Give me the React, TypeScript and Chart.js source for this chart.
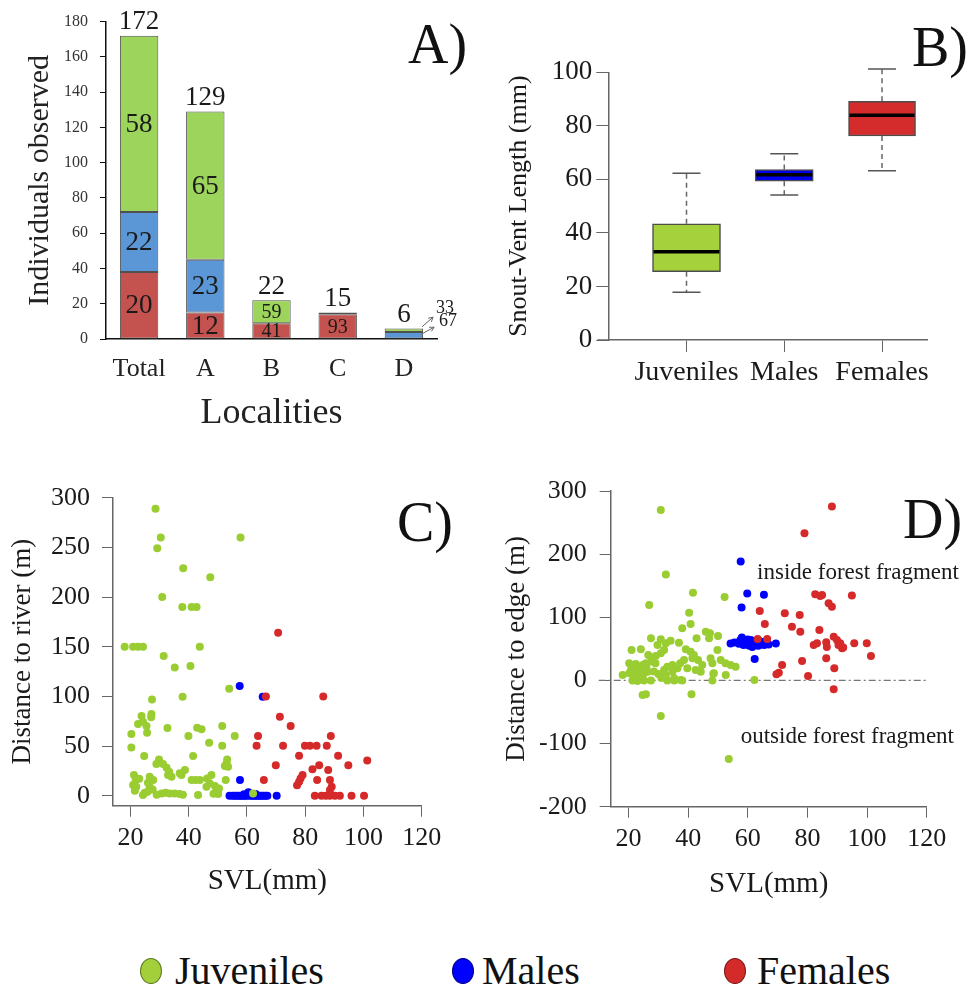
import React, { useEffect, useRef } from 'react';
import { Chart, registerables } from 'chart.js';

Chart.register(...registerables);

const FONT = "'Liberation Serif', 'Times New Roman', Times, serif";
Chart.defaults.font.family = FONT;
Chart.defaults.color = '#1a1a1a';

// ---------- Panel A: individuals observed per locality ----------
const localities = ['Total', 'A', 'B', 'C', 'D'];
const femalesCount = [38, 15, 9, 14, 0];
const malesCount = [34, 30, 0, 0, 4];
const juvenilesCount = [100, 84, 13, 1, 2];
const femalesPct = ['20', '12', '41', '93', ''];
const malesPct = ['22', '23', '', '', '67'];
const juvenilesPct = ['58', '65', '59', '', '33'];
const countTicks = [0, 20, 40, 60, 80, 100, 120, 140, 160, 180];

// ---------- Panel B: snout-vent length box plots ----------
const groups = ['Juveniles', 'Males', 'Females'];
const svlWhiskerLow = [17.8, 54.2, 63.2];
const svlQ1 = [25.5, 59.3, 76.2];
const svlMedian = [33, 61.7, 84];
const svlQ3 = [43.4, 63.7, 89.2];
const svlWhiskerHigh = [62.3, 69.6, 101.2];
const svlTicks = [0, 20, 40, 60, 80, 100];

// ---------- Panels C & D: shared x ticks ----------
const svlAxisTicks = [20, 40, 60, 80, 100, 120];

// ---------- Panel C: distance to river ----------
const riverTicks = [0, 50, 100, 150, 200, 250, 300];
const riverJuveniles = [
  [28.6, 289], [30.4, 260], [29.2, 249], [38.1, 229], [47.4, 220], [30.9, 200], [37.8, 190], [41, 190], [42.7, 190], [57.8, 260],
  [18, 150], [20.9, 150], [22.6, 150], [24.3, 150], [43.8, 150],
  [31.4, 140.7], [35.2, 129], [40.6, 130.6], [53.9, 107.8], [37.9, 99.7], [27.4, 97],
  [23.8, 80.3], [27.2, 82.3], [27.1, 79], [22.6, 72.2], [24.3, 74.5], [25.5, 70.2], [25.7, 63.4], [20.3, 62.1],
  [32.7, 68.2], [39.9, 60.1], [42.9, 68.5], [44.4, 66.9], [51.5, 70.2], [55.8, 60.1],
  [20.3, 48.7], [47, 53.4], [51.5, 50.4], [24.7, 40], [41.5, 40],
  [53.2, 36.6], [53, 32.6], [52.4, 29.9], [53.5, 29.2],
  [29.8, 36.6], [28.9, 31.9], [31.2, 31.9], [32.4, 28.2], [33.3, 24.2], [34.1, 19.1], [32.9, 20.8],
  [36.9, 22.6], [38.7, 25.9], [37.5, 20.8],
  [21.2, 20.8], [21.8, 15.8], [20.9, 10.8], [22, 9.1],
  [26.6, 19.1], [27.8, 15.8], [26.6, 9.1], [27.6, 6.4], [24.9, 3], [24.3, 0.7], [25.9, 4],
  [30.7, 2.4], [32.1, 3], [33.5, 2.4], [35.2, 2.4], [36.9, 1.7],
  [41, 15.8], [42.4, 15.8], [43.8, 15.8],
  [46.3, 17.5], [47.8, 20.8], [47.2, 12.5], [49, 9.8], [46.1, 9.1],
  [49.6, 5.7], [50.1, 1.7], [50.4, 7.4],
  [43.2, 0.7], [52.7, 15.8], [62.1, 2.4],
  [48.5, 2], [29, 1], [38, 1], [23, 17], [26, 13], [21.5, 5],
];
const riverMales = [
  [57.5, 110.5], [65.4, 99.7], [57.6, 15.8],
  [54, 0], [55, 0], [55.7, 0], [56.3, 0], [57, 0], [57.6, 0], [58.2, 0], [58.8, 0], [59.4, 0], [60, 0],
  [60.5, 3.5], [61, 0], [61.6, 0], [62.2, 0], [62.8, 0], [63.4, 0], [64, 0], [64.6, 0], [65.2, 0],
  [65.8, 0], [66.4, 0], [67, 0], [70.2, 0], [59, 1.5], [63, 1.8],
];
const riverFemales = [
  [66.5, 100], [86.2, 100], [70.7, 164], [71.3, 79.6], [75, 70.2], [63.8, 60.1], [63.3, 50.4], [72.4, 50.4],
  [79.9, 50.4], [81.6, 50.4], [83.9, 50.4], [87.4, 50.4], [88.8, 60.1], [77.9, 40.3], [91.3, 40.3],
  [69.9, 30.6], [84.8, 30.6], [94.8, 30.6], [82.5, 26.6], [101.3, 35.6], [87.9, 25.9],
  [79.1, 20.8], [78.4, 17.5], [77.9, 14.1], [77.2, 10.5], [65.8, 15.8], [84.1, 15.8], [88.5, 15.8],
  [89.1, 9.1], [88.5, 5.7], [83.3, 0], [85.6, 0], [87.1, 0], [88.5, 0], [90.2, 0], [91.9, 0], [95.9, 0], [100.2, 0],
];

// ---------- Panel D: distance to edge ----------
const edgeTicks = [-200, -100, 0, 100, 200, 300];
const edgeJuveniles = [
  [30.8, 270], [32.5, 167.7], [26.9, 119.5], [41.6, 139], [40.3, 107.3], [52.2, 132], [40.8, 89.4], [38, 82.6],
  [45.9, 77.2], [47.3, 74.6], [50, 70.4], [47, 66.7], [42.8, 66.7],
  [27.5, 66.7], [30.8, 65.1], [32.5, 58.8], [34.1, 62.9], [29.7, 56.1], [36.9, 59.8],
  [21, 48.2], [24.1, 49.3], [39.2, 49.3], [49.8, 48.2],
  [26.6, 40.3], [28, 35], [29.1, 38.7], [30.8, 42.9], [31.9, 48.2],
  [40.8, 45.5], [41.9, 40.3], [43.3, 32.3], [41.4, 35],
  [38.6, 32.3], [37.3, 27.1], [36.4, 19.2], [39.7, 19.2],
  [44.7, 24.4], [44.2, 13.8], [42.5, 16.5],
  [47.5, 35], [48.1, 27.1], [50.9, 32.3], [52.5, 27.1], [54.2, 24.4], [55.9, 21.7],
  [48.6, 11.2], [52.6, 8.6],
  [34.7, 24.4], [33, 21.7], [31.9, 16.5], [34.7, 13.8], [32.5, 8.6], [35.3, 3.3], [37.5, 0.6],
  [20.2, 27.1], [21.3, 24.4], [22.4, 26], [23.5, 21.7], [24.7, 24.4], [25.8, 27.1],
  [20.8, 16.5], [22.4, 13.8], [24.1, 16.5], [25.2, 11.2], [26.4, 13.8], [21.9, 8.6], [23.5, 7], [20.2, 11.2],
  [18, 8.6], [21.3, 0], [23, -1], [25.2, 0], [27.5, 0],
  [27.6, 30], [29, 27], [26, 20], [28.5, 14], [30, 10], [31, 4],
  [24.7, -23.1], [25.8, -22], [30.8, -56.4], [41.1, -22], [53.6, -124.6], [62.2, 0.6],
  [33, 0], [35.3, 0], [38, 0], [48.1, 0], [48.4, 10.6],
];
const edgeMales = [
  [57.6, 188.5], [59.8, 137.8], [65.4, 135.6], [57.9, 115.3], [62.3, 33.8],
  [54.2, 58.5], [55.5, 60], [57, 58], [57.5, 64], [58, 68], [58.5, 56], [58.5, 62], [59, 60], [59.5, 57],
  [60, 65], [60, 60], [60.5, 55], [61, 60], [61, 64], [61.5, 53], [62, 62], [62, 57], [62.5, 59], [63, 60],
  [63, 56], [63.5, 55], [64, 62], [64, 58], [64.5, 57], [65, 61], [65.5, 56], [66, 60], [66.5, 58], [67, 57], [69.4, 58.5],
];
const edgeFemales = [
  [88.2, 275.3], [79, 233], [82.6, 136.4], [84.3, 133.8], [84.9, 135.3], [94.9, 134.3], [87.1, 122.2], [88.2, 116.8],
  [64, 110], [72.4, 106.3], [77.4, 103.6], [65.7, 89.4], [74.8, 85.1], [77.6, 77.2], [84, 79.9], [63.3, 65.6],
  [66.5, 65.6], [88.8, 69.3], [89.9, 64], [91, 58.8], [91.6, 50.9], [90.4, 56.1], [86.3, 60.4], [95.7, 58.8],
  [99.9, 58.8], [101.3, 38.7], [82.1, 56.1], [83.2, 58.8], [86.3, 35], [78.2, 30.7], [89, 19.2], [71.5, 24.4],
  [70.4, 12.2], [69.6, 9.7], [80.2, 7], [88.8, -14.1], [86.5, 53], [92, 52],
];
const edgeNoteTexts = ['inside forest fragment', 'outside forest fragment'];
const edgeNoteX = [63.1, 57.6];
const edgeNoteY = [169.7, -89];

// ---------- styles ----------
const barColors = ['#c4524f', '#5b97d6', '#9dd45b'];
const boxColors = ['#a4d13c', '#0000f0', '#d42c2c'];
const boxWidths = [68, 58, 67];
const pointColors = { juv: '#9acd32', male: '#0000ff', female: '#d62a2a' };

const pctLabels = [femalesPct, malesPct, juvenilesPct];

const barLabelPlugin = {
  id: 'barLabels',
  afterDatasetsDraw(chart: any) {
    const ctx = chart.ctx;
    const ys = chart.scales.y;
    const xs = chart.scales.x;
    ctx.save();
    ctx.fillStyle = '#1a1a1a';
    ctx.textAlign = 'center';
    ctx.textBaseline = 'middle';
    const outside: any[] = [];
    chart.data.datasets.forEach((_ds: any, di: number) => {
      const meta = chart.getDatasetMeta(di);
      meta.data.forEach((el: any, i: number) => {
        const text = pctLabels[di][i];
        if (!text) return;
        const p = el.getProps(['x', 'y', 'base', 'width'], true);
        const h = p.base - p.y;
        const cy = (p.y + p.base) / 2;
        if (h < 14) {
          outside.push({ text, right: p.x + p.width / 2, cy });
          return;
        }
        ctx.font = `${h >= 25 ? 27 : 20}px ${FONT}`;
        ctx.fillText(text, p.x, cy + 1);
      });
    });
    ctx.font = `27px ${FONT}`;
    localities.forEach((_l, i) => {
      const total = femalesCount[i] + malesCount[i] + juvenilesCount[i];
      ctx.fillText(String(total), xs.getPixelForValue(i), ys.getPixelForValue(total) - 13.5);
    });
    outside.sort((a, b) => a.cy - b.cy);
    const offs = [
      { tx: -1, ty: -3.5, hx: 10, hy: -13, lx: 22, ly: -22 },
      { tx: 0, ty: -2, hx: 11, hy: -8, lx: 25, ly: -14 },
    ];
    ctx.font = `18px ${FONT}`;
    ctx.strokeStyle = '#666';
    ctx.lineWidth = 1;
    outside.forEach((o, k) => {
      const f = offs[Math.min(k, offs.length - 1)];
      const x0 = o.right + f.tx, y0 = o.cy + f.ty;
      const x1 = o.right + f.hx, y1 = o.cy + f.hy;
      ctx.beginPath();
      ctx.moveTo(x0, y0);
      ctx.lineTo(x1, y1);
      const ang = Math.atan2(y1 - y0, x1 - x0);
      ctx.moveTo(x1, y1);
      ctx.lineTo(x1 - 5 * Math.cos(ang - 0.5), y1 - 5 * Math.sin(ang - 0.5));
      ctx.moveTo(x1, y1);
      ctx.lineTo(x1 - 5 * Math.cos(ang + 0.5), y1 - 5 * Math.sin(ang + 0.5));
      ctx.stroke();
      ctx.fillText(o.text, o.right + f.lx, o.cy + f.ly);
    });
    ctx.restore();
  },
};

const boxPlugin = {
  id: 'boxParts',
  beforeDatasetsDraw(chart: any) {
    const ctx = chart.ctx;
    const ys = chart.scales.y;
    ctx.save();
    groups.forEach((_g, i) => {
      const el = chart.getDatasetMeta(i).data[0];
      if (!el) return;
      const x = el.x;
      const cap = 28;
      ctx.strokeStyle = '#666';
      ctx.lineWidth = 1.5;
      ctx.setLineDash([5, 4]);
      ctx.beginPath();
      ctx.moveTo(x, ys.getPixelForValue(svlQ3[i]));
      ctx.lineTo(x, ys.getPixelForValue(svlWhiskerHigh[i]));
      ctx.moveTo(x, ys.getPixelForValue(svlQ1[i]));
      ctx.lineTo(x, ys.getPixelForValue(svlWhiskerLow[i]));
      ctx.stroke();
      ctx.setLineDash([]);
      ctx.strokeStyle = '#555';
      ctx.beginPath();
      [svlWhiskerHigh[i], svlWhiskerLow[i]].forEach((v) => {
        const yy = ys.getPixelForValue(v);
        ctx.moveTo(x - cap / 2, yy);
        ctx.lineTo(x + cap / 2, yy);
      });
      ctx.stroke();
    });
    ctx.restore();
  },
  afterDatasetsDraw(chart: any) {
    const ctx = chart.ctx;
    const ys = chart.scales.y;
    ctx.save();
    ctx.strokeStyle = '#000';
    ctx.lineWidth = 3.5;
    groups.forEach((_g, i) => {
      const el = chart.getDatasetMeta(i).data[0];
      if (!el) return;
      const yy = ys.getPixelForValue(svlMedian[i]);
      ctx.beginPath();
      ctx.moveTo(el.x - el.width / 2 + 1, yy);
      ctx.lineTo(el.x + el.width / 2 - 1, yy);
      ctx.stroke();
    });
    // small extension of the x axis line to the left of the y axis
    const a = chart.chartArea;
    ctx.strokeStyle = '#666';
    ctx.lineWidth = 1.5;
    ctx.beginPath();
    ctx.moveTo(a.left - 11, a.bottom);
    ctx.lineTo(a.left, a.bottom);
    ctx.stroke();
    ctx.restore();
  },
};

const edgePlugin = {
  id: 'edgeParts',
  beforeDatasetsDraw(chart: any) {
    const ctx = chart.ctx;
    const a = chart.chartArea;
    const yy = chart.scales.y.getPixelForValue(0);
    ctx.save();
    ctx.strokeStyle = '#777';
    ctx.lineWidth = 1.2;
    ctx.setLineDash([7, 3, 2, 3]);
    ctx.beginPath();
    ctx.moveTo(a.left - 12, yy);
    ctx.lineTo(a.right, yy);
    ctx.stroke();
    ctx.restore();
  },
  afterDatasetsDraw(chart: any) {
    const ctx = chart.ctx;
    const xs = chart.scales.x;
    const ys = chart.scales.y;
    ctx.save();
    ctx.fillStyle = '#1a1a1a';
    ctx.font = `23px ${FONT}`;
    ctx.textAlign = 'left';
    ctx.textBaseline = 'middle';
    edgeNoteTexts.forEach((t, i) => {
      ctx.fillText(t, xs.getPixelForValue(edgeNoteX[i]), ys.getPixelForValue(edgeNoteY[i]));
    });
    ctx.restore();
  },
};

const noInteraction = {
  animation: false,
  responsive: false,
  events: [],
  plugins: { legend: { display: false }, tooltip: { enabled: false } },
};

function makeA() {
  const series = [femalesCount, malesCount, juvenilesCount];
  const names = ['Females', 'Males', 'Juveniles'];
  return {
    type: 'bar',
    data: {
      labels: localities,
      datasets: series.map((s, i) => ({
        label: names[i],
        data: s.map((v) => (v ? v : null)),
        backgroundColor: barColors[i],
        borderColor: '#505050',
        borderWidth: 1,
        borderSkipped: false,
        barPercentage: 0.58,
        categoryPercentage: 1,
      })),
    },
    options: {
      ...noInteraction,
      layout: { padding: { top: 21.7, right: 48, left: 0, bottom: 0 } },
      scales: {
        x: {
          stacked: true,
          offset: true,
          grid: { display: false, drawTicks: false },
          border: { display: true, color: '#111', width: 1.5 },
          ticks: { font: { size: 26 }, color: '#222', padding: 15, maxRotation: 0 },
          title: { display: true, text: 'Localities', font: { size: 36 }, color: '#222', padding: { top: 0, bottom: 5 } },
          afterFit: (s: any) => { s.height = 101; },
        },
        y: {
          stacked: true,
          min: 0,
          max: 180,
          afterBuildTicks: (s: any) => { s.ticks = countTicks.map((value) => ({ value })); },
          grid: { drawOnChartArea: false, drawTicks: true, tickLength: 6, tickColor: '#111' },
          border: { display: true, color: '#111', width: 1.5 },
          ticks: { font: { size: 16 }, color: '#333', padding: 12 },
          title: { display: true, text: 'Individuals observed', font: { size: 30 }, color: '#222', padding: { top: 22, bottom: 0 } },
          afterFit: (s: any) => { s.width = 106; },
        },
      },
    },
    plugins: [barLabelPlugin],
  };
}

function makeB() {
  return {
    type: 'bar',
    data: {
      datasets: groups.map((g, i) => ({
        label: g,
        data: [{ x: i + 1, y: [svlQ1[i], svlQ3[i]] }],
        backgroundColor: boxColors[i],
        borderColor: '#4d4d4d',
        borderWidth: 1.5,
        borderSkipped: false,
        barThickness: boxWidths[i],
        grouped: false,
      })),
    },
    options: {
      ...noInteraction,
      layout: { padding: { top: 72.3, right: 43, left: 0, bottom: 0 } },
      scales: {
        x: {
          type: 'linear',
          min: 0.2,
          max: 3.46,
          offset: false,
          afterBuildTicks: (s: any) => { s.ticks = groups.map((_g, i) => ({ value: i + 1 })); },
          grid: { offset: false, drawOnChartArea: false, drawTicks: true, tickLength: 12, tickColor: '#666' },
          border: { display: true, color: '#666', width: 1.5 },
          ticks: {
            font: { size: 28 },
            color: '#1a1a1a',
            padding: 4,
            autoSkip: false,
            maxRotation: 0,
            callback: (v: any) => groups[Math.round(v) - 1],
          },
          afterFit: (s: any) => { s.height = 100; },
        },
        y: {
          min: 0,
          max: 100,
          afterBuildTicks: (s: any) => { s.ticks = svlTicks.map((value) => ({ value })); },
          grid: { drawOnChartArea: false, drawTicks: true, tickLength: 12, tickColor: '#666' },
          border: { display: true, color: '#666', width: 1.5 },
          ticks: { font: { size: 27 }, color: '#1a1a1a', padding: 4 },
          title: { display: true, text: 'Snout-Vent Length (mm)', font: { size: 26 }, color: '#1a1a1a', padding: { top: 19, bottom: 0 } },
          afterFit: (s: any) => { s.width = 123.3; },
        },
      },
    },
    plugins: [boxPlugin],
  };
}

function makeScatter(p: any) {
  const toXY = (arr: number[][]) => arr.map(([x, y]) => ({ x, y }));
  const pt = { pointRadius: 4, pointHoverRadius: 4, pointBorderWidth: 0, borderWidth: 0 };
  return {
    type: 'scatter',
    data: {
      datasets: [
        { label: 'Juveniles', data: toXY(p.juv), backgroundColor: pointColors.juv, ...pt },
        { label: 'Females', data: toXY(p.female), backgroundColor: pointColors.female, ...pt },
        { label: 'Males', data: toXY(p.male), backgroundColor: pointColors.male, ...pt },
      ],
    },
    options: {
      ...noInteraction,
      layout: { padding: { top: p.top, right: p.right, left: 0, bottom: 0 } },
      scales: {
        x: {
          type: 'linear',
          min: 14,
          max: 120,
          afterBuildTicks: (s: any) => { s.ticks = svlAxisTicks.map((value) => ({ value })); },
          grid: { drawOnChartArea: false, drawTicks: true, tickLength: 11, tickColor: '#666' },
          border: { display: true, color: '#666', width: 1.5 },
          ticks: { font: { size: 26 }, color: '#1a1a1a', padding: 6, autoSkip: false, maxRotation: 0 },
          title: { display: true, text: 'SVL(mm)', font: { size: 29 }, color: '#1a1a1a', padding: { top: 0, bottom: p.xTitlePad } },
          afterFit: (s: any) => { s.height = p.xHeight; },
        },
        y: {
          type: 'linear',
          min: p.yMin,
          max: p.yMax,
          afterBuildTicks: (s: any) => { s.ticks = p.yTicks.map((value: number) => ({ value })); },
          grid: { drawOnChartArea: false, drawTicks: true, tickLength: 11, tickColor: '#666' },
          border: { display: true, color: '#666', width: 1.5 },
          ticks: { font: { size: 26 }, color: '#1a1a1a', padding: p.yTickPad },
          title: { display: true, text: p.yTitle, font: { size: 27 }, color: '#1a1a1a', padding: { top: p.yTitlePad, bottom: 0 } },
          afterFit: (s: any) => { s.width = p.yWidth; },
        },
      },
    },
    plugins: p.plugins || [],
  };
}

function makeC() {
  return makeScatter({
    juv: riverJuveniles, male: riverMales, female: riverFemales,
    top: 57.7, right: 63.3, xHeight: 114.3, yWidth: 113,
    yMin: -10, yMax: 300, yTicks: riverTicks,
    yTitle: 'Distance to river (m)', yTitlePad: 7, xTitlePad: 21, yTickPad: 12,
  });
}

function makeD() {
  return makeScatter({
    juv: edgeJuveniles, male: edgeMales, female: edgeFemales,
    top: 51, right: 43.3, xHeight: 113.3, yWidth: 125.7,
    yMin: -200, yMax: 300, yTicks: edgeTicks,
    yTitle: 'Distance to edge (m)', yTitlePad: 16, xTitlePad: 18, yTickPad: 13,
    plugins: [edgePlugin],
  });
}

function ChartCanvas({ left, top, width, height, make }: any) {
  const ref = useRef<HTMLCanvasElement | null>(null);
  useEffect(() => {
    const chart = new Chart(ref.current as HTMLCanvasElement, make());
    return () => chart.destroy();
  }, []);
  return (
    <canvas
      ref={ref}
      width={width}
      height={height}
      style={{ position: 'absolute', left, top, width, height }}
    />
  );
}

const letterStyle = (left: number, top: number): React.CSSProperties => ({
  position: 'absolute', left, top, fontFamily: FONT, fontSize: 56, lineHeight: 1, color: '#111', whiteSpace: 'nowrap',
});

function LegendItem({ cx, textLeft, color, border, label }: any) {
  return (
    <>
      <div style={{
        position: 'absolute', left: cx - 11, top: 971 - 13, width: 20, height: 24, borderRadius: '50%',
        background: color, border: `1.5px solid ${border}`,
      }} />
      <div style={{
        position: 'absolute', left: textLeft, top: 971 - 20, fontFamily: FONT, fontSize: 40, lineHeight: 1,
        color: '#111', whiteSpace: 'nowrap',
      }}>{label}</div>
    </>
  );
}

export default function App() {
  return (
    <div style={{ position: 'absolute', left: 0, top: 0, width: 970, height: 987, background: '#fff', overflow: 'hidden' }}>
      <ChartCanvas left={0} top={0} width={485} height={440} make={makeA} />
      <ChartCanvas left={485} top={0} width={485} height={440} make={makeB} />
      <ChartCanvas left={0} top={440} width={485} height={480} make={makeC} />
      <ChartCanvas left={485} top={440} width={485} height={480} make={makeD} />
      <div style={letterStyle(408, 16)}>A)</div>
      <div style={letterStyle(912, 19)}>B)</div>
      <div style={letterStyle(397, 494)}>C)</div>
      <div style={letterStyle(903, 491)}>D)</div>
      <LegendItem cx={151} textLeft={175} color="#a3cf3a" border="#5a7a20" label="Juveniles" />
      <LegendItem cx={463} textLeft={482} color="#0000ff" border="#000080" label="Males" />
      <LegendItem cx={735} textLeft={757} color="#d42a2a" border="#7a1a1a" label="Females" />
    </div>
  );
}
